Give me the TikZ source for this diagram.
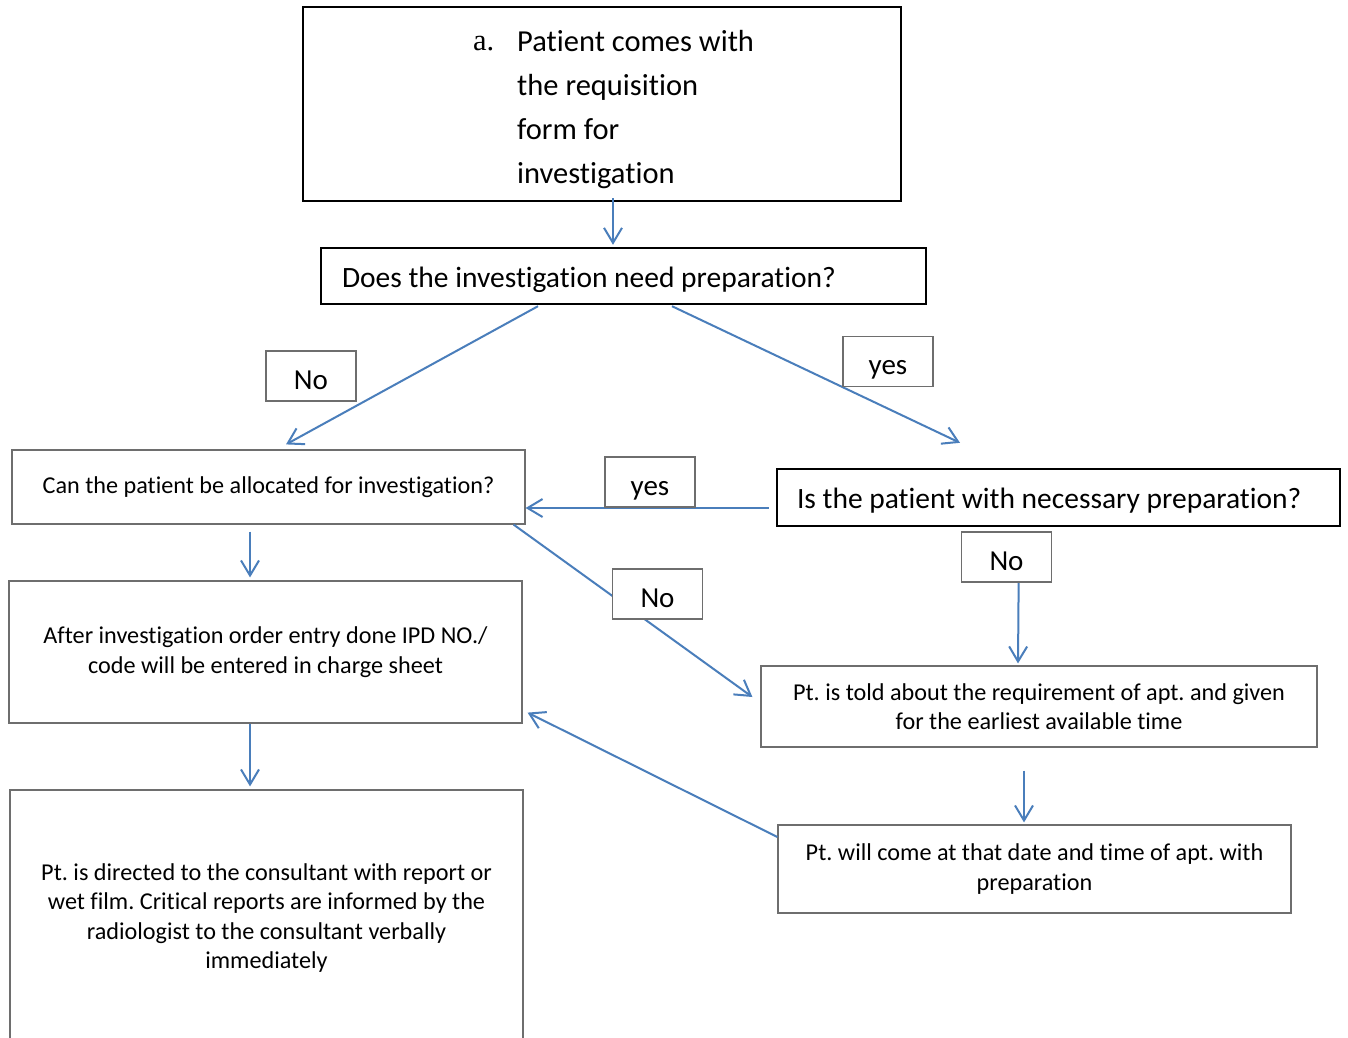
\documentclass[tikz,border=0pt]{standalone}
\usepackage{fontspec}
\setmainfont{Carlito}[Ligatures=NoCommon]
\newfontfamily\serifa{Liberation Serif}
\usetikzlibrary{arrows.meta,calc}
\definecolor{arrblue}{RGB}{74,126,187}
\definecolor{boxgray}{RGB}{110,110,110}
\frenchspacing
\begin{document}
\frenchspacing
\begin{tikzpicture}[x=1pt,y=-1pt,
  thickbox/.style={draw=black, line width=2.4pt, rectangle, inner sep=0pt},
  thinbox/.style={draw=boxgray, line width=1.2pt, rectangle, inner sep=0pt},
  topfont/.style={font=\fontsize{30.5}{44}\selectfont},
  bigfont/.style={font=\fontsize{29.5}{44}\selectfont},
  smallfont/.style={font=\fontsize{24.2}{29.5}\selectfont},
  lbl/.style={thinbox, fill=white, minimum width=90pt, minimum height=50pt, text height=26pt, text depth=0pt, font=\fontsize{29}{35}\selectfont},
  arr/.style={draw=arrblue, line width=2pt, -{Straight Barb[length=15pt,width=18pt]}}]
\clip (0,0) rectangle (1348,1037);
\fill[white] (0,0) rectangle (1348,1037);

% boxes
\node[thickbox, minimum width=598pt, minimum height=194pt] (A) at (602,104) {};
\node[topfont, anchor=base west, inner sep=0pt] (Anum) at (473,50) {\serifa a.};
\node[topfont, anchor=north west, inner sep=0pt, align=flush left] (Atext) at (517,30)
  {Patient comes with\\the requisition\\form for\\investigation};

\node[thickbox, bigfont, text width=563pt, inner xsep=21pt, minimum height=56pt, text height=22pt, text depth=0pt, align=flush left] (B) at (623.5,276)
  {Does the investigation need preparation?};

\node[thinbox, smallfont, minimum width=513pt, minimum height=74pt, align=center] (C) at (268.5,487)
  {Can the patient be allocated for investigation?};

\node[thickbox, bigfont, text width=523pt, inner xsep=20pt, minimum height=57pt, text height=22pt, text depth=0pt, align=flush left] (D) at (1058.5,497.5)
  {Is the patient with necessary preparation?};

\node[thinbox, smallfont, minimum width=513pt, minimum height=142pt, align=center] (E) at (265.5,652)
  {After investigation order entry done IPD NO./\\code will be entered in charge sheet};

\node[thinbox, minimum width=513pt, minimum height=260pt] (F) at (266.5,920) {};
\node[smallfont, align=center, inner sep=0pt] (Ftext) at (266.5,918)
  {Pt. is directed to the consultant with report or\\wet film. Critical reports are informed by the\\radiologist to the consultant verbally\\immediately};

\node[thinbox, smallfont, minimum width=556pt, minimum height=81pt, align=center] (G) at (1039,706.5)
  {Pt. is told about the requirement of apt. and given\\for the earliest available time};

\node[thinbox, smallfont, minimum width=513pt, minimum height=88pt, align=center] (H) at (1034.5,869)
  {Pt. will come at that date and time of apt. with\\preparation};

% connectors
\draw[arr] ($(A.south)+(11,-4)$) -- ($(B.north)+(-10.5,-2)$);
\draw[arr] ($(B.south)+(-85.5,1)$) -- ($(C.north)+(17.5,-5)$);
\draw[arr] ($(B.south)+(48.5,1)$) -- ($(D.north)+(-98.5,-25)$);
\draw[arr] ($(D.west)+(-7,10.5)$) -- ($(C.east)+(0,21)$);
\draw[arr] ($(C.south east)+(-12,0)$) -- ($(G.west)+(-8,-9.5)$);
\draw[arr] ($(D.south)+(-39.5,10)$) -- ($(G.north)+(-21,-2)$);
\draw[arr] ($(C.south)+(-18.5,7)$) -- ($(E.north)+(-15.5,-3)$);
\draw[arr] ($(E.south)+(-15.5,0)$) -- ($(F.north)+(-16.5,-3)$);
\draw[arr] ($(G.south)+(-15,23)$) -- ($(H.north)+(-10.5,-2)$);
\draw[arr] ($(H.west)+(0,-32)$) -- ($(E.south east)+(5,-11)$);

% labels
\node[lbl] (no1) at (311,376) {No};
\node[lbl] (yes1) at (888,361.5) {yes};
\node[lbl] (yes2) at (650,482) {yes};
\node[lbl] (no2) at (657.5,594) {No};
\node[lbl] (no3) at (1006.5,557) {No};
\end{tikzpicture}
\end{document}
